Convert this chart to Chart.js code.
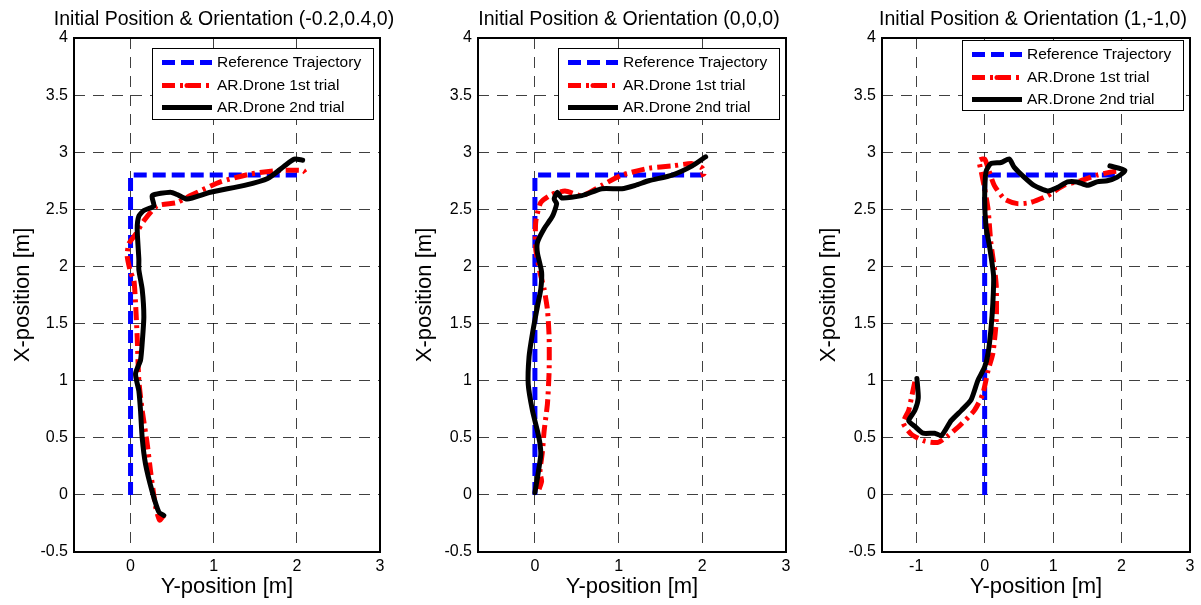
<!DOCTYPE html>
<html lang="en">
<head>
<meta charset="UTF-8">
<title>AR.Drone trajectory tracking</title>
<script src="https://cdn.jsdelivr.net/npm/chart.js"></script>
<style>
  body { margin: 0; background: #fff; }
  .panel { position: absolute; top: 0; }
</style>
</head>
<body>
<div class="panel" style="left:0"><canvas id="chartA" width="400" height="605"></canvas></div>
<div class="panel" style="left:400px"><canvas id="chartB" width="400" height="605"></canvas></div>
<div class="panel" style="left:800px"><canvas id="chartC" width="401" height="605"></canvas></div>

<script>
const FONT = "'Liberation Sans', Arial, sans-serif";

// axis ticks
const yTickValues = [-0.5, 0, 0.5, 1, 1.5, 2, 2.5, 3, 3.5, 4];
const xTicksAB = [0, 1, 2, 3];
const xTicksC = [-1, 0, 1, 2, 3];

const seriesNames = ['Reference Trajectory', 'AR.Drone 1st trial', 'AR.Drone 2nd trial'];

// reference trajectory (same in all runs) - horizontal is Y-position, vertical is X-position
const refY = [0, 0, 2];
const refX = [0, 2.8, 2.8];

// run A : initial (-0.2,0.4,0)
const aTrial1Y = [0.4, 0.35, 0.3, 0.24, 0.2, 0.14, 0.1, 0.08, 0.06, 0.04, 0.0, -0.04, -0.02, 0.06, 0.16, 0.32, 0.56, 0.72, 1.08, 1.45, 1.77, 2.08, 2.1];
const aTrial1X = [-0.18, -0.22, -0.1, 0.21, 0.45, 0.74, 1.0, 1.38, 1.68, 1.88, 1.95, 2.09, 2.2, 2.28, 2.4, 2.53, 2.56, 2.62, 2.74, 2.81, 2.84, 2.84, 2.82];
const aTrial2Y = [0.4, 0.34, 0.26, 0.18, 0.14, 0.12, 0.1, 0.06, 0.12, 0.14, 0.16, 0.14, 0.1, 0.1, 0.08, 0.1, 0.16, 0.28, 0.26, 0.48, 0.56, 0.68, 0.96, 1.37, 1.65, 1.85, 1.97, 2.07];
const aTrial2X = [-0.18, -0.15, 0.03, 0.27, 0.5, 0.74, 0.91, 1.06, 1.18, 1.33, 1.56, 1.8, 1.97, 2.06, 2.33, 2.44, 2.49, 2.53, 2.62, 2.65, 2.63, 2.59, 2.65, 2.71, 2.77, 2.88, 2.94, 2.93];

// run B : initial (0,0,0)
const bTrial1Y = [0.05, 0.08, 0.06, 0.09, 0.11, 0.15, 0.17, 0.17, 0.15, 0.11, 0.06, 0.01, 0.01, 0.07, 0.2, 0.36, 0.56, 0.8, 1.04, 1.36, 1.64, 1.88, 2.0, 2.02, 1.98];
const bTrial1X = [0.05, 0.12, 0.2, 0.38, 0.56, 0.8, 1.09, 1.38, 1.62, 1.8, 1.95, 2.15, 2.39, 2.56, 2.63, 2.66, 2.62, 2.71, 2.8, 2.86, 2.88, 2.9, 2.86, 2.81, 2.8];
const bTrial2Y = [0, 0.03, 0.07, 0.06, 0.03, -0.03, -0.08, -0.07, -0.03, 0.03, 0.07, 0.08, 0.03, 0.03, 0.11, 0.21, 0.26, 0.23, 0.27, 0.32, 0.56, 0.8, 1.04, 1.2, 1.36, 1.64, 1.88, 2.04];
const bTrial2X = [0.02, 0.15, 0.35, 0.45, 0.56, 0.74, 0.97, 1.21, 1.41, 1.65, 1.8, 1.95, 2.12, 2.21, 2.33, 2.44, 2.55, 2.59, 2.65, 2.6, 2.62, 2.68, 2.68, 2.71, 2.75, 2.8, 2.88, 2.96];

// run C : initial (1,-1,0)
const cTrial1Y = [-1.02, -1.07, -1.11, -1.19, -1.07, -0.87, -0.68, -0.53, -0.34, -0.15, -0.03, 0.05, 0.12, 0.17, 0.17, 0.15, 0.09, 0.05, 0, -0.05, -0.08, 0, 0.05, 0.14, 0.29, 0.48, 0.67, 0.92, 1.16, 1.4, 1.64, 1.88, 2.05];
const cTrial1X = [0.99, 0.85, 0.74, 0.63, 0.53, 0.47, 0.46, 0.52, 0.62, 0.74, 0.88, 1.09, 1.24, 1.53, 1.82, 1.95, 2.21, 2.5, 2.68, 2.83, 2.93, 2.94, 2.86, 2.71, 2.59, 2.55, 2.56, 2.62, 2.71, 2.75, 2.8, 2.83, 2.84];
const cTrial2Y = [-0.99, -0.97, -1.02, -1.11, -1.02, -0.9, -0.73, -0.63, -0.49, -0.34, -0.2, -0.1, 0, 0.05, 0.09, 0.12, 0.13, 0.07, 0.02, 0, 0.02, 0.09, 0.24, 0.36, 0.43, 0.58, 0.72, 0.92, 1.06, 1.21, 1.35, 1.5, 1.64, 1.79, 1.93, 2.05, 1.83];
const cTrial2X = [1.02, 0.85, 0.74, 0.65, 0.6, 0.54, 0.54, 0.52, 0.65, 0.74, 0.83, 1.0, 1.12, 1.24, 1.44, 1.68, 1.92, 2.18, 2.35, 2.59, 2.83, 2.9, 2.91, 2.94, 2.87, 2.78, 2.71, 2.66, 2.69, 2.74, 2.74, 2.71, 2.74, 2.75, 2.78, 2.84, 2.88];

function pts(hor, ver) {
  return hor.map((v, i) => ({ x: v, y: ver[i] }));
}

// title above the axes, frame around the axes, matlab-style legend box in the top right corner
const frameLegend = {
  id: 'frameLegend',
  afterDatasetsDraw(chart, args, opts) {
    const { ctx, chartArea } = chart;
    ctx.save();
    ctx.strokeStyle = '#000';
    ctx.lineWidth = 2;
    ctx.strokeRect(chartArea.left, chartArea.top, chartArea.right - chartArea.left, chartArea.bottom - chartArea.top);

    ctx.fillStyle = '#000';
    ctx.font = '19.5px ' + FONT;
    ctx.textAlign = 'center';
    ctx.textBaseline = 'middle';
    ctx.fillText(opts.title, (chartArea.left + chartArea.right) / 2 - 3, 20);
    ctx.textAlign = 'left';

    const x0 = Math.round(chartArea.right - opts.inset - opts.width);
    const y0 = Math.round(chartArea.top + opts.top);
    ctx.fillStyle = '#fff';
    ctx.fillRect(x0, y0, opts.width, opts.height);
    ctx.lineWidth = 1;
    ctx.strokeRect(x0 + 0.5, y0 + 0.5, opts.width, opts.height);

    ctx.font = '15.5px ' + FONT;
    const rowY = [14.5, 37.5, 59.5];
    chart.data.datasets.forEach((ds, i) => {
      const yy = y0 + rowY[i];
      ctx.beginPath();
      ctx.strokeStyle = ds.borderColor;
      ctx.lineWidth = ds.borderWidth;
      ctx.setLineDash(ds.borderDash || []);
      ctx.lineCap = 'butt';
      ctx.moveTo(x0 + 10, yy);
      ctx.lineTo(x0 + 60, yy);
      ctx.stroke();
      ctx.setLineDash([]);
      ctx.beginPath();
      ctx.fillStyle = ds.borderColor;
      ctx.arc(x0 + 35, yy, 2.5, 0, Math.PI * 2);
      ctx.fill();
      ctx.fillStyle = '#000';
      ctx.fillText(ds.label, x0 + 65, yy + 0.5);
    });
    ctx.restore();
  }
};

function makePanel(id, cfg) {
  const axisFont = { family: FONT, size: 16 };
  const grid = { color: 'rgba(0,0,0,0.75)', lineWidth: 1, drawTicks: false };
  const border = { display: false, dash: [11, 8] };
  new Chart(document.getElementById(id), {
    type: 'scatter',
    data: {
      datasets: [
        { label: seriesNames[0], data: pts(refY, refX), borderColor: '#0000ff', borderWidth: 5,
          borderDash: [13, 6], order: 3, tension: 0 },
        { label: seriesNames[1], data: pts(cfg.t1Y, cfg.t1X), borderColor: '#ff0000', borderWidth: 5,
          borderDash: [13, 5, 3, 5], order: 2, tension: 0.2 },
        { label: seriesNames[2], data: pts(cfg.t2Y, cfg.t2X), borderColor: '#000000', borderWidth: 5,
          borderCapStyle: 'round', order: 1, tension: 0.2 }
      ].map(d => Object.assign(d, { showLine: true, pointRadius: 0, fill: false, borderJoinStyle: 'round' }))
    },
    options: {
      responsive: false,
      animation: false,
      devicePixelRatio: 1,
      layout: { padding: { left: 0, right: cfg.padRight, top: 38, bottom: 0 } },
      plugins: {
        legend: { display: false },
        tooltip: { enabled: false },
        title: { display: false },
        frameLegend: { title: cfg.title, inset: 7, top: cfg.legendTop, width: 221, height: cfg.legendH }
      },
      scales: {
        x: {
          type: 'linear', min: cfg.xMin, max: 3,
          afterBuildTicks: s => { s.ticks = cfg.xTicks.map(v => ({ value: v })); },
          afterFit: s => { s.height = 53; },
          ticks: { font: axisFont, color: '#000', padding: 5, callback: v => String(v) },
          grid: grid, border: border,
          title: { display: true, text: 'Y-position [m]', color: '#000',
                   font: { family: FONT, size: 22 }, padding: { top: 0, bottom: 4.8 } }
        },
        y: {
          type: 'linear', min: -0.5, max: 4,
          afterBuildTicks: s => { s.ticks = yTickValues.map(v => ({ value: v })); },
          afterFit: s => { s.width = cfg.yWidth; },
          ticks: { font: axisFont, color: '#000', padding: 6, callback: v => String(v) },
          grid: grid, border: border,
          title: { display: true, text: 'X-position [m]', color: '#000',
                   font: { family: FONT, size: 22 }, padding: { top: cfg.yTitlePad, bottom: 0 } }
        }
      }
    },
    plugins: [frameLegend]
  });
}

makePanel('chartA', {
  title: 'Initial Position & Orientation (-0.2,0.4,0)',
  t1Y: aTrial1Y, t1X: aTrial1X, t2Y: aTrial2Y, t2X: aTrial2X,
  xMin: -0.68, xTicks: xTicksAB, yWidth: 74, padRight: 20, yTitlePad: 9.8,
  legendTop: 10, legendH: 71
});
makePanel('chartB', {
  title: 'Initial Position & Orientation (0,0,0)',
  t1Y: bTrial1Y, t1X: bTrial1X, t2Y: bTrial2Y, t2X: bTrial2X,
  xMin: -0.68, xTicks: xTicksAB, yWidth: 78, padRight: 14, yTitlePad: 11.8,
  legendTop: 10, legendH: 71
});
makePanel('chartC', {
  title: 'Initial Position & Orientation (1,-1,0)',
  t1Y: cTrial1Y, t1X: cTrial1X, t2Y: cTrial2Y, t2X: cTrial2X,
  xMin: -1.5, xTicks: xTicksC, yWidth: 82, padRight: 11, yTitlePad: 15.3,
  legendTop: 2, legendH: 70
});
</script>
</body>
</html>
